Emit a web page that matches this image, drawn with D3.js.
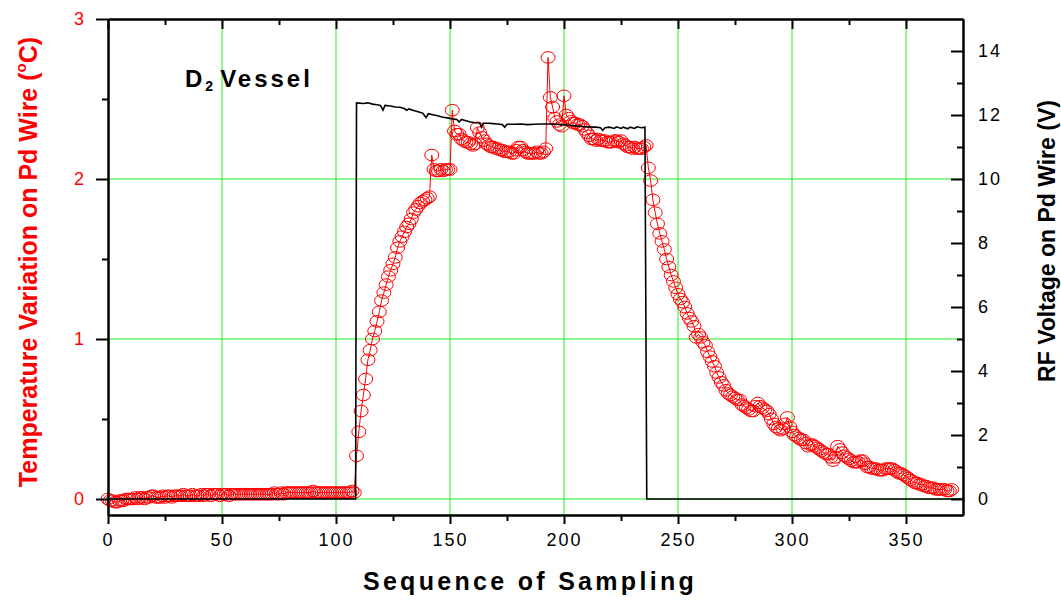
<!DOCTYPE html>
<html>
<head>
<meta charset="utf-8">
<script src="https://cdn.jsdelivr.net/npm/d3@7"></script>
<style>
    body { margin: 0; background: #fff; }
    text { font-family: "Liberation Sans", Arial, sans-serif; }
</style>
</head>
<body>
<svg id="chart" width="1061" height="601"></svg>
<script>
// temperature variation, one value per sample (sample number = index)
const tempVals = [
    0.00,-0.01,-0.01,-0.02,-0.02,-0.01,-0.01,-0.01,0.00,0.00,
    0.00,0.00,0.01,0.00,0.01,0.01,0.00,0.01,0.01,0.02,
    0.02,0.01,0.01,0.01,0.02,0.01,0.02,0.02,0.01,0.02,
    0.02,0.02,0.02,0.03,0.02,0.02,0.02,0.03,0.02,0.02,
    0.02,0.03,0.02,0.03,0.03,0.02,0.03,0.03,0.03,0.02,
    0.03,0.03,0.03,0.02,0.03,0.03,0.03,0.03,0.03,0.03,
    0.03,0.03,0.03,0.03,0.03,0.03,0.03,0.03,0.03,0.03,
    0.03,0.03,0.03,0.04,0.03,0.03,0.04,0.03,0.04,0.04,
    0.04,0.04,0.04,0.04,0.04,0.04,0.04,0.04,0.04,0.04,
    0.05,0.04,0.04,0.04,0.04,0.04,0.04,0.04,0.04,0.04,
    0.04,0.04,0.04,0.04,0.04,0.04,0.04,0.05,0.04,0.27,
    0.42,0.55,0.65,0.75,0.87,0.93,1.00,1.05,1.11,1.17,
    1.24,1.29,1.34,1.39,1.43,1.47,1.51,1.57,1.61,1.64,
    1.67,1.70,1.72,1.75,1.79,1.81,1.83,1.85,1.86,1.87,
    1.88,1.89,2.15,2.06,2.05,2.05,2.06,2.05,2.06,2.06,
    2.06,2.43,2.30,2.28,2.28,2.25,2.24,2.23,2.23,2.22,
    2.21,2.22,2.32,2.29,2.26,2.24,2.22,2.21,2.20,2.20,
    2.19,2.19,2.18,2.18,2.17,2.17,2.17,2.16,2.16,2.18,
    2.20,2.20,2.18,2.17,2.16,2.16,2.16,2.16,2.17,2.16,
    2.16,2.17,2.19,2.76,2.51,2.45,2.38,2.36,2.34,2.33,
    2.52,2.40,2.38,2.36,2.35,2.35,2.34,2.34,2.33,2.31,
    2.29,2.27,2.25,2.25,2.24,2.25,2.24,2.24,2.24,2.23,
    2.23,2.23,2.24,2.24,2.23,2.24,2.22,2.21,2.20,2.20,
    2.19,2.20,2.19,2.19,2.19,2.20,2.21,2.07,1.99,1.87,
    1.79,1.72,1.66,1.61,1.56,1.50,1.45,1.40,1.36,1.32,
    1.28,1.25,1.23,1.20,1.16,1.13,1.11,1.08,1.01,1.03,
    1.01,0.98,0.96,0.92,0.89,0.86,0.83,0.79,0.76,0.73,
    0.71,0.68,0.66,0.65,0.64,0.63,0.62,0.62,0.59,0.58,
    0.57,0.56,0.55,0.55,0.58,0.60,0.58,0.57,0.56,0.55,
    0.53,0.50,0.47,0.45,0.44,0.43,0.44,0.47,0.51,0.45,
    0.42,0.40,0.39,0.38,0.37,0.37,0.35,0.33,0.34,0.34,
    0.33,0.32,0.31,0.30,0.29,0.28,0.28,0.26,0.24,0.26,
    0.33,0.31,0.29,0.27,0.26,0.25,0.24,0.23,0.23,0.23,
    0.24,0.24,0.22,0.20,0.20,0.19,0.19,0.19,0.18,0.18,
    0.18,0.19,0.19,0.19,0.19,0.18,0.17,0.16,0.16,0.15,
    0.14,0.13,0.12,0.11,0.10,0.10,0.09,0.09,0.08,0.08,
    0.07,0.07,0.07,0.06,0.06,0.06,0.06,0.06,0.05,0.05,
    0.06
];

// RF voltage trace (sample, volts)
const rfSample = [0, 108.6, 109, 112, 114, 116, 118, 119.5, 120.6, 121.5, 124, 126, 128, 130, 131, 132, 134, 136, 138, 139.5,
    140.5, 143, 145, 147, 149, 151, 153, 154, 155, 157, 159, 161, 163, 163.8, 164.6, 167, 169, 171, 173, 174,
    175, 178, 181, 184, 187, 190, 193, 196, 199, 202, 205, 208, 211, 214, 216, 217, 218, 220, 222, 223,
    225, 226, 228, 229, 231, 232, 234, 235.5, 236.3, 375];
const rfVolts = [0, 0, 12.38, 12.36, 12.38, 12.34, 12.32, 12.30, 12.15, 12.30, 12.28, 12.25, 12.24, 12.20, 12.15, 12.19, 12.14, 12.10, 12.06, 11.92,
    12.04, 12.00, 11.97, 11.93, 11.91, 11.88, 11.86, 11.78, 11.86, 11.82, 11.78, 11.76, 11.75, 11.62, 11.74, 11.74, 11.73, 11.72, 11.70, 11.62,
    11.71, 11.71, 11.72, 11.70, 11.71, 11.72, 11.72, 11.71, 11.70, 11.68, 11.66, 11.64, 11.62, 11.62, 11.60, 11.52, 11.60, 11.62, 11.58, 11.63,
    11.58, 11.62, 11.57, 11.62, 11.58, 11.63, 11.60, 11.62, 0, 0];

const xMajor = [0, 50, 100, 150, 200, 250, 300, 350];
const xMinor = [25, 75, 125, 175, 225, 275, 325];
const tMajor = [0, 1, 2, 3];
const tMinor = [0.5, 1.5, 2.5];
const vMajor = [0, 2, 4, 6, 8, 10, 12, 14];
const vMinor = [1, 3, 5, 7, 9, 11, 13];

const plotLeft = 108, plotRight = 963, plotTop = 19, plotBottom = 515;
const gridColor = '#22ee22';

let svg = d3.select('#chart');

let x = d3.scaleLinear().domain([0, 375]).range([plotLeft, plotRight]);
let yT = d3.scaleLinear().domain([-0.1, 3]).range([plotBottom, plotTop]);
let yV = d3.scaleLinear().domain([-0.5, 15]).range([plotBottom, plotTop]);

// grid
let grid = svg.append('g');
grid.selectAll('.vgrid')
    .data(xMajor.slice(1))
    .enter()
    .append('line')
    .attr('x1', d => x(d)).attr('x2', d => x(d))
    .attr('y1', plotTop).attr('y2', plotBottom)
    .attr('stroke', gridColor).attr('stroke-width', 1);
grid.selectAll('.hgrid')
    .data([0, 1, 2])
    .enter()
    .append('line')
    .attr('x1', plotLeft).attr('x2', plotRight)
    .attr('y1', d => yT(d)).attr('y2', d => yT(d))
    .attr('stroke', gridColor).attr('stroke-width', 1);

// temperature series
let tempLine = d3.line()
    .x((d, i) => x(i))
    .y(d => yT(d));

svg.append('path')
    .datum(tempVals)
    .attr('d', tempLine)
    .attr('fill', 'none')
    .attr('stroke', 'red')
    .attr('stroke-width', 1);

svg.append('g')
    .selectAll('ellipse')
    .data(tempVals)
    .enter()
    .append('ellipse')
    .attr('cx', (d, i) => x(i))
    .attr('cy', d => yT(d))
    .attr('rx', 7)
    .attr('ry', 5.8)
    .attr('fill', 'none')
    .attr('stroke', 'red')
    .attr('stroke-width', 1);

// RF voltage series
let rfLine = d3.line()
    .x((d, i) => x(rfSample[i]))
    .y(d => yV(d));

svg.append('path')
    .datum(rfVolts)
    .attr('d', rfLine)
    .attr('fill', 'none')
    .attr('stroke', 'black')
    .attr('stroke-width', 1.6);

// axes
function styleAxis(g, color) {
    g.select('.domain').attr('stroke', 'black').attr('stroke-width', 2);
    g.selectAll('.tick line').attr('stroke', 'black').attr('stroke-width', 2);
    g.selectAll('.tick text')
        .attr('font-size', 18)
        .attr('letter-spacing', 2)
        .attr('fill', color)
        .style('font-family', '"Liberation Sans", Arial, sans-serif');
}

svg.append('g')
    .attr('transform', `translate(0,${plotBottom})`)
    .call(d3.axisBottom(x).tickValues(xMinor).tickSize(6).tickSizeOuter(0).tickFormat(''))
    .call(g => styleAxis(g, 'black'));
svg.append('g')
    .attr('transform', `translate(0,${plotBottom})`)
    .call(d3.axisBottom(x).tickValues(xMajor).tickSize(9).tickSizeOuter(0).tickPadding(9).tickFormat(d3.format('d')))
    .call(g => styleAxis(g, 'black'));

svg.append('g')
    .attr('transform', `translate(0,${plotTop})`)
    .call(d3.axisTop(x).tickValues(xMinor).tickSize(-6).tickSizeOuter(0).tickFormat(''))
    .call(g => styleAxis(g, 'black'));
svg.append('g')
    .attr('transform', `translate(0,${plotTop})`)
    .call(d3.axisTop(x).tickValues(xMajor).tickSize(-10).tickSizeOuter(0).tickFormat(''))
    .call(g => styleAxis(g, 'black'));

svg.append('g')
    .attr('transform', `translate(${plotLeft},0)`)
    .call(d3.axisLeft(yT).tickValues(tMinor).tickSize(6).tickSizeOuter(0).tickFormat(''))
    .call(g => styleAxis(g, 'red'));
svg.append('g')
    .attr('transform', `translate(${plotLeft},0)`)
    .call(d3.axisLeft(yT).tickValues(tMajor).tickSize(12).tickSizeOuter(0).tickPadding(10).tickFormat(d3.format('d')))
    .call(g => styleAxis(g, 'red'));

svg.append('g')
    .attr('transform', `translate(${plotRight},0)`)
    .call(d3.axisRight(yV).tickValues(vMinor).tickSize(-6).tickSizeOuter(0).tickFormat(''))
    .call(g => styleAxis(g, 'black'));
svg.append('g')
    .attr('transform', `translate(${plotRight},0)`)
    .call(d3.axisRight(yV).tickValues(vMajor).tickSize(-12).tickSizeOuter(0).tickPadding(15).tickFormat(d3.format('d')))
    .call(g => styleAxis(g, 'black'));

// titles
svg.append('text')
    .attr('x', 530)
    .attr('y', 590)
    .attr('text-anchor', 'middle')
    .attr('font-size', 25)
    .attr('font-weight', 'bold')
    .attr('letter-spacing', 3.3)
    .text('Sequence of Sampling');

let tTitle = svg.append('text')
    .attr('transform', 'translate(37,262) rotate(-90)')
    .attr('text-anchor', 'middle')
    .attr('font-size', 25)
    .attr('font-weight', 'bold')
    .attr('fill', 'red');
tTitle.append('tspan').text('Temperature Variation on Pd Wire (');
tTitle.append('tspan').attr('font-size', 15).attr('dy', -11).text('o');
tTitle.append('tspan').attr('dy', 11).text('C)');

svg.append('text')
    .attr('transform', 'translate(1055,241) rotate(-90)')
    .attr('text-anchor', 'middle')
    .attr('font-size', 23)
    .attr('font-weight', 'bold')
    .text('RF Voltage on Pd Wire (V)');

let label = svg.append('text')
    .attr('x', 185)
    .attr('y', 87)
    .attr('font-size', 24)
    .attr('font-weight', 'bold')
    .attr('letter-spacing', 3);
label.append('tspan').text('D');
label.append('tspan').attr('font-size', 14).attr('dy', 4).text('2');
label.append('tspan').attr('dy', -4).attr('dx', 4).text('Vessel');
</script>
</body>
</html>
